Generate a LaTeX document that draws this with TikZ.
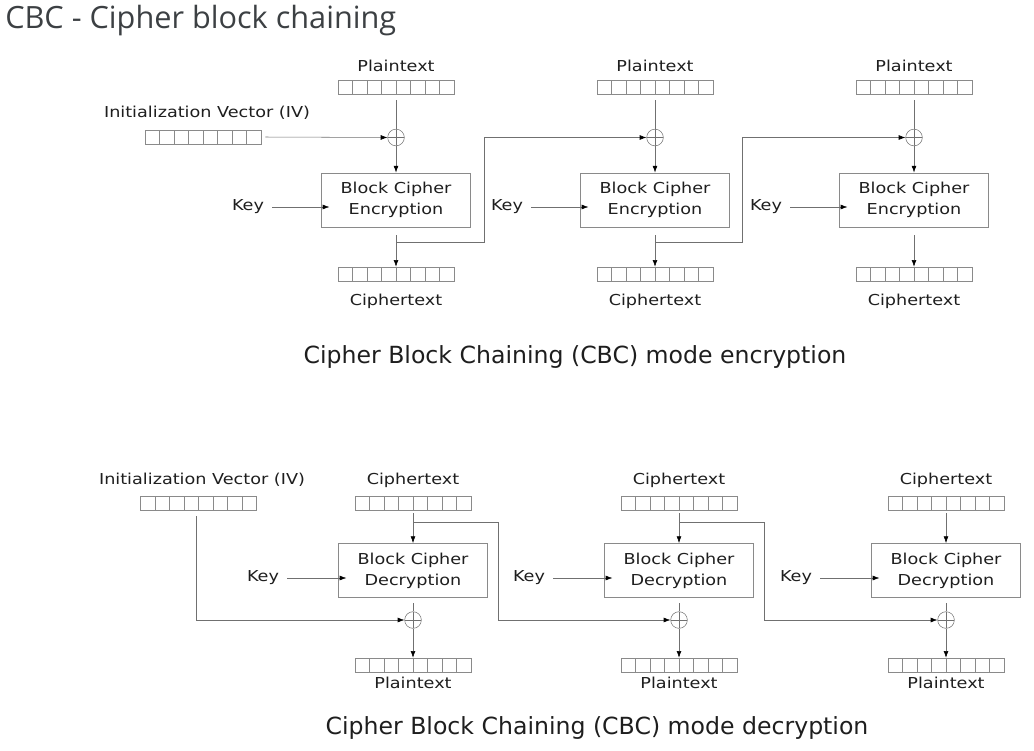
\documentclass[tikz,border=0pt]{standalone}
\usepackage{fontspec}
\usetikzlibrary{arrows.meta,calc}
\newfontfamily\diagfont[FakeStretch=1.17]{DejaVu Sans}
\newfontfamily\capfont{DejaVu Sans}
\newfontfamily\titlefont{Open Sans}
\definecolor{txtcol}{HTML}{1E1E1E}
\definecolor{linecol}{HTML}{707070}
\definecolor{regcol}{HTML}{8A8A8A}
\definecolor{titlecol}{HTML}{3C4043}

\tikzset{
  lbl/.style={font=\diagfont\fontsize{11.3pt}{13pt}\selectfont, text=txtcol, inner sep=0},
  reg/.style={draw=regcol, minimum width=87pt, minimum height=10.5pt, inner sep=0},
  cipherbox/.style={draw=regcol, minimum width=111.5pt, minimum height=40.8pt, align=center,
    font=\diagfont\fontsize{11.3pt}{15.75pt}\selectfont, text=txtcol},
  xorop/.style={circle, draw=linecol, minimum size=12.5pt, inner sep=0,
    path picture={\draw[linecol] (path picture bounding box.north) -- (path picture bounding box.south)
      (path picture bounding box.west) -- (path picture bounding box.east);}},
  wire/.style={draw=linecol},
  flow/.style={draw=linecol, -{Latex[length=5pt,width=3.6pt,color=black]}},
  captext/.style={font=\capfont\fontsize{17.7pt}{20pt}\selectfont, text=txtcol, inner sep=0},
  titletext/.style={font=\titlefont\fontsize{23pt}{26pt}\selectfont, text=titlecol, inner sep=0},
}

% register of eight cells
\newcommand{\register}[3]{%
  \node[reg] (#1) at (#2,#3) {};
  \foreach \i in {1,...,7}
    \draw[regcol] ($(#1.south west)!\i/8!(#1.south east)$) -- ($(#1.north west)!\i/8!(#1.north east)$);
}

\begin{document}
\begin{tikzpicture}[x=0.75pt, y=-0.75pt]
    \useasboundingbox (0,0) rectangle (1034,750);
    \node[titletext, anchor=base west] (title) at (5,28) {CBC - Cipher block chaining};

    % Encryption
    \node[lbl] (eivlbl) at (207,113) {Initialization Vector (IV)};
    \register{eivreg}{203}{137}
    \foreach \k/\x in {1/396, 2/655, 3/914} {
        \node[lbl] (eplbl\k) at (\x,66) {Plaintext};
        \register{epreg\k}{\x}{87.5}
        \node[xorop] (exor\k) at (\x,137.5) {};
        \node[cipherbox] (eblock\k) at (\x,200) {Block Cipher\\Encryption};
        \register{ecreg\k}{\x}{274}
        \node[lbl] (eclbl\k) at (\x,301) {Ciphertext};
        \node[lbl] (ekey\k) at (\x-148,207) {Key};
        \coordinate (etap\k) at (\x,242);
        \draw[wire] ([yshift=-4pt]epreg\k.south) -- (exor\k.north);
        \draw[flow] (exor\k) -- (eblock\k);
        \draw[flow] ([yshift=-6pt]eblock\k.south) -- (ecreg\k);
        \draw[flow] ([xshift=6pt]ekey\k.east) -- ([xshift=6pt]ekey\k.east -| eblock\k.west);
    }
    \draw[flow] ([xshift=3pt]eivreg.east) -- (exor1.west);
    \draw[flow] (etap1) -- ++(88,0) |- (exor2.west);
    \draw[flow] (etap2) -- ++(87,0) |- (exor3.west);
    \node[captext] (enccap) at (575,357) {Cipher Block Chaining (CBC) mode encryption};

    % Decryption
    \node[lbl] (divlbl) at (202,480) {Initialization Vector (IV)};
    \register{divreg}{198.5}{503.5}
    \foreach \k/\x in {1/413, 2/679, 3/946} {
        \node[lbl] (dclbl\k) at (\x,480) {Ciphertext};
        \register{dcreg\k}{\x}{503.5}
        \node[cipherbox] (dblock\k) at (\x,570.5) {Block Cipher\\Decryption};
        \node[xorop] (dxor\k) at (\x,620) {};
        \register{dpreg\k}{\x}{665}
        \node[lbl] (dplbl\k) at (\x,683) {Plaintext};
        \node[lbl] (dkey\k) at (\x-150,578) {Key};
        \coordinate (dtap\k) at (\x,522);
        \draw[flow] ([yshift=-2pt]dcreg\k.south) -- (dblock\k);
        \draw[wire] ([yshift=-4pt]dblock\k.south) -- (dxor\k.north);
        \draw[flow] (dxor\k) -- (dpreg\k);
        \draw[flow] ([xshift=6pt]dkey\k.east) -- ([xshift=6pt]dkey\k.east -| dblock\k.west);
    }
    \draw[flow] ([xshift=-2pt, yshift=-4pt]divreg.south) |- (dxor1.west);
    \draw[flow] (dtap1) -- ++(85,0) |- (dxor2.west);
    \draw[flow] (dtap2) -- ++(85,0) |- (dxor3.west);
    \node[captext] (deccap) at (597,728) {Cipher Block Chaining (CBC) mode decryption};
\end{tikzpicture}
\end{document}
